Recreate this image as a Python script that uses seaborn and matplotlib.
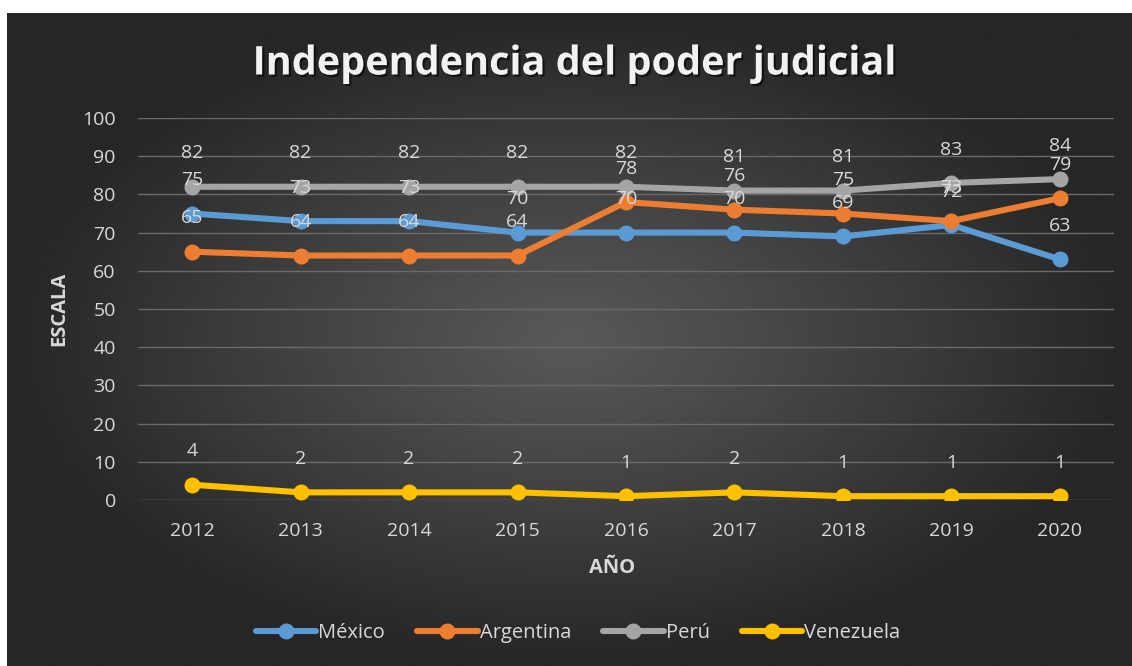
import numpy as np
import pandas as pd
import matplotlib
matplotlib.use('Agg')
import matplotlib.pyplot as plt
import matplotlib.patheffects as pe
import seaborn as sns

# Chart data
years = [2012, 2013, 2014, 2015, 2016, 2017, 2018, 2019, 2020]
mexico = [75, 73, 73, 70, 70, 70, 69, 72, 63]
argentina = [65, 64, 64, 64, 78, 76, 75, 73, 79]
peru = [82, 82, 82, 82, 82, 81, 81, 83, 84]
venezuela = [4, 2, 2, 2, 1, 2, 1, 1, 1]
countries = ['México', 'Argentina', 'Perú', 'Venezuela']
series = [mexico, argentina, peru, venezuela]
y_ticks = [0, 10, 20, 30, 40, 50, 60, 70, 80, 90, 100]

palette = {'México': '#5B9BD5', 'Argentina': '#ED7D31',
           'Perú': '#A5A5A5', 'Venezuela': '#FFC000'}
text_color = '#d9d9d9'

df = pd.DataFrame({
    'year': years * len(countries),
    'value': [v for s in series for v in s],
    'country': [c for c in countries for _ in years],
})

sns.set_style('white')
plt.rcParams['font.family'] = ['Open Sans', 'DejaVu Sans']

fig = plt.figure(figsize=(11.32, 6.66), dpi=100, facecolor='white')

# radial gradient panel behind the chart
bg = fig.add_axes([7 / 1132, 0, 1 - 7 / 1132, 1 - 13 / 666], zorder=-10)
gx, gy = np.meshgrid(np.linspace(-1, 1, 400), np.linspace(-1, 1, 240))
r = np.clip(np.sqrt(gx ** 2 + gy ** 2), 0, 1)
shade = (88 - (88 - 38) * r ** 1.1) / 255.0
bg.imshow(np.dstack([shade, shade, shade]), aspect='auto', extent=[0, 1, 0, 1],
          interpolation='bilinear')
bg.set_axis_off()

ax = fig.add_axes([138 / 1132, 1 - 500 / 666, 976 / 1132, 382 / 666])
ax.patch.set_alpha(0)

sns.lineplot(
    data=df, x='year', y='value', hue='country', hue_order=countries,
    palette=palette, style='country', markers=['o'] * 4, dashes=False,
    linewidth=4.4, markersize=11.5, markeredgewidth=0, ax=ax,
)

for c, vals in zip(countries, series):
    for x, v in zip(years, vals):
        ax.annotate(str(v), (x, v), xytext=(0, 24), textcoords='offset points',
                    ha='center', va='center', color=text_color, fontsize=14)

ax.set_xlim(2011.5, 2020.5)
ax.set_ylim(0, 100)
ax.set_xticks(years)
ax.set_yticks(y_ticks)
ax.tick_params(axis='both', length=0, colors=text_color, labelsize=14)
ax.tick_params(axis='y', pad=16)
ax.tick_params(axis='x', pad=16)
ax.grid(axis='y', color='#6a6a6a', linewidth=1)
ax.set_axisbelow(True)
for s in ax.spines.values():
    s.set_visible(False)

ax.set_xlabel('AÑO', color=text_color, fontsize=14.5, fontweight='bold')
ax.set_ylabel('ESCALA', color=text_color, fontsize=14.5, fontweight='bold')
ax.xaxis.set_label_coords(0.486, -0.152)
ax.yaxis.set_label_coords(-0.070, 0.5)

fig.text(0.508, 1 - 64 / 666, 'Independencia del poder judicial', ha='center',
         va='center', color='#f2f2f2', fontsize=28.5, fontweight='bold',
         path_effects=[pe.withSimplePatchShadow(offset=(1.5, -1.5), alpha=0.6,
                                                shadow_rgbFace='black')])

leg = ax.legend(loc='center', bbox_to_anchor=(578 / 1132, 1 - 633 / 666),
                bbox_transform=fig.transFigure, ncol=4, frameon=False,
                fontsize=14.5, handlelength=3, columnspacing=1.6,
                handletextpad=0.1, labelcolor=text_color, title=None)

fig.savefig('out.png', dpi=100, facecolor='white')
